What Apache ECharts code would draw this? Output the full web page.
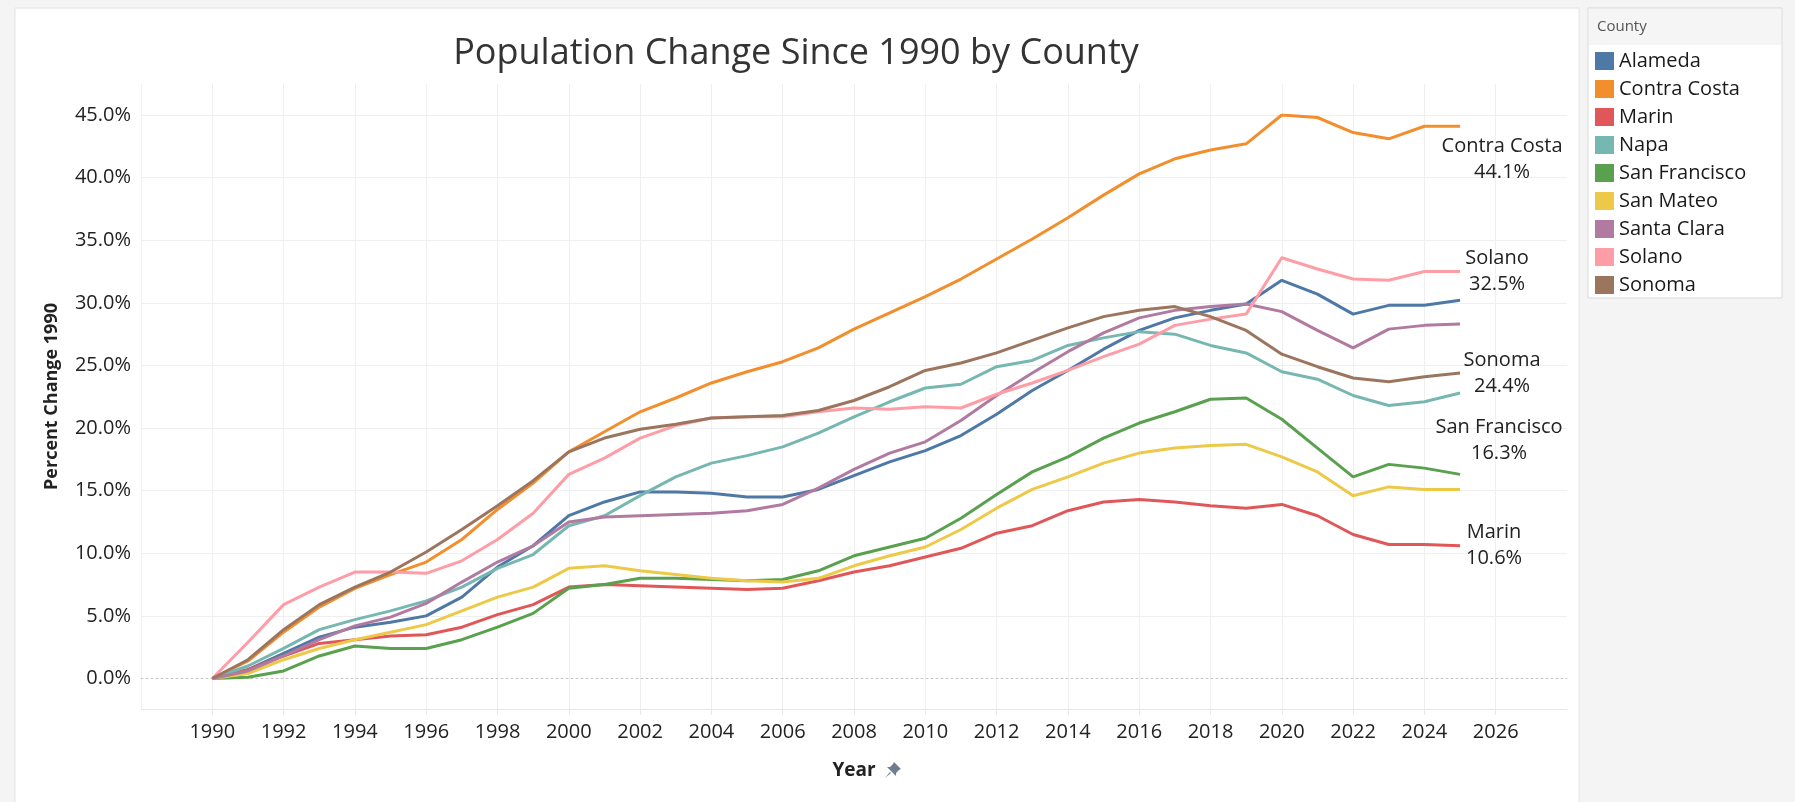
<!DOCTYPE html>
<html>
<head>
<meta charset="utf-8">
<title>Population Change Since 1990 by County</title>
<script src="https://cdn.jsdelivr.net/npm/echarts@6/dist/echarts.min.js"></script>
<style>
  html, body { margin: 0; padding: 0; background: #f4f4f4; }
  #chart { width: 1795px; height: 802px; }
</style>
</head>
<body>
<div id="chart"></div>
<script>
// years on the x axis
var years = [1990, 1991, 1992, 1993, 1994, 1995, 1996, 1997, 1998, 1999,
             2000, 2001, 2002, 2003, 2004, 2005, 2006, 2007, 2008, 2009,
             2010, 2011, 2012, 2013, 2014, 2015, 2016, 2017, 2018, 2019,
             2020, 2021, 2022, 2023, 2024, 2025];

// percent change since 1990, one array per county
var alameda      = [0, 0.7, 2.0, 3.3, 4.1, 4.5, 5.0, 6.5, 8.9, 10.6, 13.0, 14.1, 14.9, 14.9, 14.8, 14.5, 14.5, 15.1, 16.2, 17.3, 18.2, 19.4, 21.1, 23.0, 24.6, 26.3, 27.8, 28.8, 29.4, 29.9, 31.8, 30.7, 29.1, 29.8, 29.8, 30.2];
var contraCosta  = [0, 1.4, 3.7, 5.7, 7.2, 8.3, 9.3, 11.1, 13.5, 15.6, 18.1, 19.7, 21.3, 22.4, 23.6, 24.5, 25.3, 26.4, 27.9, 29.2, 30.5, 31.9, 33.5, 35.1, 36.8, 38.6, 40.3, 41.5, 42.2, 42.7, 45.0, 44.8, 43.6, 43.1, 44.1, 44.1];
var marin        = [0, 0.7, 1.8, 2.8, 3.1, 3.4, 3.5, 4.1, 5.1, 5.9, 7.3, 7.5, 7.4, 7.3, 7.2, 7.1, 7.2, 7.8, 8.5, 9.0, 9.7, 10.4, 11.6, 12.2, 13.4, 14.1, 14.3, 14.1, 13.8, 13.6, 13.9, 13.0, 11.5, 10.7, 10.7, 10.6];
var napa         = [0, 1.0, 2.4, 3.9, 4.7, 5.4, 6.2, 7.3, 8.8, 9.9, 12.2, 13.0, 14.6, 16.1, 17.2, 17.8, 18.5, 19.6, 20.9, 22.1, 23.2, 23.5, 24.9, 25.4, 26.6, 27.2, 27.7, 27.5, 26.6, 26.0, 24.5, 23.9, 22.6, 21.8, 22.1, 22.8];
var sanFrancisco = [0, 0.1, 0.6, 1.8, 2.6, 2.4, 2.4, 3.1, 4.1, 5.2, 7.2, 7.5, 8.0, 8.0, 7.9, 7.8, 7.9, 8.6, 9.8, 10.5, 11.2, 12.8, 14.7, 16.5, 17.7, 19.2, 20.4, 21.3, 22.3, 22.4, 20.7, 18.4, 16.1, 17.1, 16.8, 16.3];
var sanMateo     = [0, 0.4, 1.5, 2.4, 3.1, 3.7, 4.3, 5.4, 6.5, 7.3, 8.8, 9.0, 8.6, 8.3, 8.0, 7.8, 7.7, 8.0, 9.0, 9.8, 10.5, 11.9, 13.6, 15.1, 16.1, 17.2, 18.0, 18.4, 18.6, 18.7, 17.7, 16.5, 14.6, 15.3, 15.1, 15.1];
var santaClara   = [0, 0.6, 1.8, 3.1, 4.2, 4.9, 6.0, 7.7, 9.3, 10.6, 12.5, 12.9, 13.0, 13.1, 13.2, 13.4, 13.9, 15.2, 16.7, 18.0, 18.9, 20.6, 22.6, 24.4, 26.1, 27.6, 28.8, 29.4, 29.7, 29.9, 29.3, 27.8, 26.4, 27.9, 28.2, 28.3];
var solano       = [0, 2.9, 5.9, 7.3, 8.5, 8.5, 8.4, 9.4, 11.1, 13.2, 16.3, 17.6, 19.2, 20.2, 20.8, 20.9, 20.9, 21.3, 21.6, 21.5, 21.7, 21.6, 22.7, 23.6, 24.6, 25.7, 26.7, 28.2, 28.7, 29.1, 33.6, 32.7, 31.9, 31.8, 32.5, 32.5];
var sonoma       = [0, 1.5, 3.9, 5.9, 7.3, 8.5, 10.1, 11.9, 13.8, 15.8, 18.1, 19.2, 19.9, 20.3, 20.8, 20.9, 21.0, 21.4, 22.2, 23.3, 24.6, 25.2, 26.0, 27.0, 28.0, 28.9, 29.4, 29.7, 28.9, 27.8, 25.9, 24.9, 24.0, 23.7, 24.1, 24.4];

var counties = ['Alameda', 'Contra Costa', 'Marin', 'Napa', 'San Francisco', 'San Mateo', 'Santa Clara', 'Solano', 'Sonoma'];
var values = [alameda, contraCosta, marin, napa, sanFrancisco, sanMateo, santaClara, solano, sonoma];
var colors = ['#4e79a7', '#f28e2b', '#e15759', '#76b7b2', '#59a14f', '#edc948', '#b07aa1', '#ff9da7', '#9c755f'];

// end labels (only some counties get one), offset from the last point
var endLabelOffsets = {
    'Contra Costa': [42, 33],
    'Solano': [37, 0],
    'Sonoma': [42, 0],
    'San Francisco': [39, -34],
    'Marin': [34, 0]
};

var font = '"Open Sans", "Noto Sans", sans-serif';
var gridColor = '#efefef';

var myChart = echarts.init(document.getElementById('chart'));

var series = counties.map(function(name, k){
    var s = {
        name: name,
        type: 'line',
        xAxisIndex: 0,
        yAxisIndex: 0,
        showSymbol: false,
        symbol: 'none',
        lineStyle: { width: 3, color: colors[k] },
        itemStyle: { color: colors[k] },
        emphasis: { disabled: true },
        data: years.map(function(y, i){ return [y, values[k][i]]; })
    };
    if (endLabelOffsets[name]) {
        s.endLabel = {
            show: true,
            position: 'right',
            distance: 0,
            align: 'center',
            verticalAlign: 'middle',
            offset: endLabelOffsets[name],
            fontFamily: font,
            fontSize: 20,
            lineHeight: 26,
            color: '#222',
            formatter: function(p){
                return p.seriesName + '\n' + p.value[1].toFixed(1) + '%';
            }
        };
    }
    return s;
});

var option = {
    animation: false,
    backgroundColor: '#f4f4f4',
    textStyle: { fontFamily: font },
    title: {
        text: 'Population Change Since 1990 by County',
        left: 791,
        top: 31,
        textAlign: 'center',
        textStyle: { fontFamily: font, fontSize: 36, fontWeight: 'normal', color: '#333' }
    },
    graphic: [
        // chart panel
        { type: 'rect', z: -10, shape: { x: 15, y: 8, width: 1564, height: 800 },
          style: { fill: '#fff', stroke: '#e2e2e2', lineWidth: 1 } },
        // legend box + header
        { type: 'rect', z: -10, shape: { x: 1588, y: 8, width: 194, height: 290 },
          style: { fill: '#fff', stroke: '#d9d9d9', lineWidth: 1 } },
        { type: 'rect', z: -9, shape: { x: 1589, y: 9, width: 192, height: 36 },
          style: { fill: '#f5f5f5' } },
        { type: 'text', x: 1597, y: 19,
          style: { text: 'County', fontFamily: font, fontSize: 15, fill: '#555' } },
        // pin next to the x axis title
        { type: 'polygon', x: 885, y: 762,
          shape: { points: [[9, 0], [16, 7], [14, 8], [11, 11], [11, 14], [2, 5], [5, 5], [8, 2]] },
          style: { fill: '#6f7d8f' } },
        { type: 'polygon', x: 885, y: 762,
          shape: { points: [[5, 10], [0, 16], [6, 11]] },
          style: { fill: '#6f7d8f' } }
    ],
    legend: {
        data: counties,
        orient: 'vertical',
        left: 1590,
        top: 46,
        icon: 'rect',
        itemWidth: 19,
        itemHeight: 18,
        itemGap: 8,
        selectedMode: false,
        textStyle: { fontFamily: font, fontSize: 20, lineHeight: 20, color: '#1a1a1a' }
    },
    grid: [
        // data grid: 0% .. 45%
        { left: 141, right: 228, top: 115, bottom: 123.5 },
        // background grid: the whole plot frame
        { left: 141, right: 228, top: 84, bottom: 93 }
    ],
    xAxis: [
        {
            type: 'value', gridIndex: 0, min: 1988, max: 2028, interval: 2,
            axisLabel: { show: false },
            axisTick: { show: false },
            splitLine: { show: false },
            axisLine: { show: true, onZero: false, lineStyle: { color: '#c4c4c4', type: [2, 3], width: 1 } }
        },
        {
            type: 'value', gridIndex: 1, min: 1988, max: 2028, interval: 2,
            name: 'Year',
            nameLocation: 'middle',
            nameGap: 52,
            nameTextStyle: { fontFamily: font, fontSize: 19, fontWeight: 'bold', color: '#222' },
            axisLabel: {
                margin: 13, fontFamily: font, fontSize: 20, color: '#222',
                showMinLabel: false, showMaxLabel: false,
                formatter: function(v){ return String(v); }
            },
            axisTick: { show: true, length: 6, lineStyle: { color: '#e8e8e8' } },
            axisLine: { show: true, lineStyle: { color: '#e8e8e8' } },
            splitLine: { show: true, showMaxLine: false, lineStyle: { color: gridColor, width: 1 } }
        }
    ],
    yAxis: [
        {
            type: 'value', gridIndex: 0, min: 0, max: 45, interval: 5,
            axisLabel: {
                margin: 10, fontFamily: font, fontSize: 20, color: '#222',
                formatter: function(v){ return v.toFixed(1) + '%'; }
            },
            axisLine: { show: false },
            axisTick: { show: false },
            splitLine: { show: true, showMinLine: false, lineStyle: { color: gridColor, width: 1 } }
        },
        {
            type: 'value', gridIndex: 1, min: 0, max: 1,
            name: 'Percent Change 1990',
            nameLocation: 'middle',
            nameGap: 80,
            nameTextStyle: { fontFamily: font, fontSize: 18, fontWeight: 'bold', color: '#222' },
            axisLabel: { show: false },
            axisLine: { show: false },
            axisTick: { show: false },
            splitLine: { show: false }
        }
    ],
    series: series
};

myChart.setOption(option);
</script>
</body>
</html>
